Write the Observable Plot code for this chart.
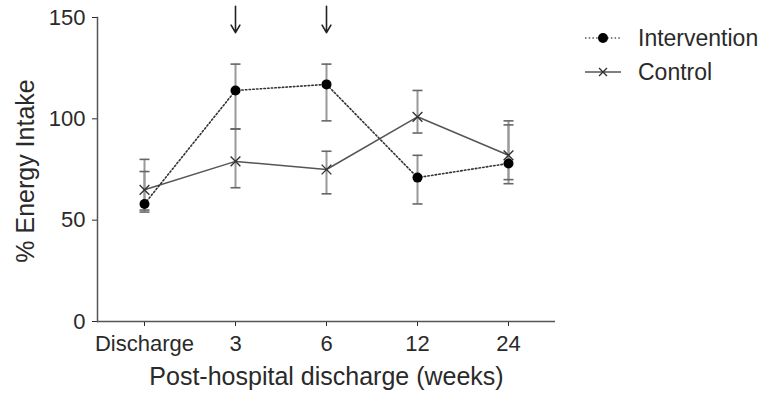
<!DOCTYPE html>
<html>
<head>
<meta charset="utf-8">
<script src="https://cdn.jsdelivr.net/npm/d3@7"></script>
<script src="https://cdn.jsdelivr.net/npm/@observablehq/plot@0.6"></script>
<style>
  body { margin: 0; background: #fff; }
  #wrap { position: relative; width: 765px; height: 393px; font-family: "Liberation Sans", Arial, sans-serif; }
  #wrap svg text { fill: #2a2a2a; }
  g[aria-label="x-axis label"] text { font-size: 25px; }
  .leg { position: absolute; left: 585px; display: flex; align-items: center; font-size: 23px; color: #2a2a2a; }
  .leg svg { margin-right: 17px; }
  #ylab { position: absolute; left: 25px; top: 171px; transform: translate(-50%, -50%) rotate(-90deg); white-space: nowrap; font-size: 25px; color: #2a2a2a; }
</style>
</head>
<body>
<div id="wrap"></div>
<script>
const timepoints = ["Discharge", "3", "6", "12", "24"];
const interventionMean = [58, 114, 117, 71, 78];
const interventionLow  = [55, 95, 99, 58, 68];
const interventionHigh = [74, 127, 127, 82, 97];
const controlMean = [65, 79, 75, 101, 82];
const controlLow  = [54, 66, 63, 93, 70];
const controlHigh = [80, 95, 84, 114, 99];
const seriesNames = ["Intervention", "Control"];
const arrowAt = ["3", "6"];
const yTicks = [0, 50, 100, 150];
const xTitle = "Post-hospital discharge (weeks)";
const yTitle = "% Energy Intake";

const intervention = timepoints.map((t, i) => ({t, mean: interventionMean[i], low: interventionLow[i], high: interventionHigh[i]}));
const control = timepoints.map((t, i) => ({t, mean: controlMean[i], low: controlLow[i], high: controlHigh[i]}));
const all = intervention.concat(control);

const capSymbol = { draw(ctx, size) { const w = 5; ctx.moveTo(-w, 0); ctx.lineTo(w, 0); } };

const chart = Plot.plot({
  width: 765, height: 393,
  marginLeft: 97, marginRight: 210, marginTop: 17, marginBottom: 72,
  style: { fontFamily: "Liberation Sans, Arial, sans-serif", fontSize: "22px", background: "white", color: "#2a2a2a", overflow: "visible" },
  x: { type: "point", domain: timepoints, padding: 0.5, label: xTitle, labelAnchor: "center", labelOffset: 63, tickSize: 5, tickPadding: 9 },
  y: { domain: [0, 150], ticks: yTicks, label: null, tickSize: 5, tickPadding: 7 },
  marks: [
    Plot.ruleY([0], { stroke: "#555", strokeWidth: 1.5 }),
    Plot.frame({ anchor: "left", stroke: "#555", strokeWidth: 1.5 }),
    Plot.ruleX(all, { x: "t", y1: "low", y2: "high", stroke: "#999", strokeWidth: 2 }),
    Plot.dot(all, { x: "t", y: "low", symbol: capSymbol, stroke: "#666", strokeWidth: 1.6, r: 5 }),
    Plot.dot(all, { x: "t", y: "high", symbol: capSymbol, stroke: "#666", strokeWidth: 1.6, r: 5 }),
    Plot.line(control, { x: "t", y: "mean", stroke: "#555", strokeWidth: 1.5 }),
    Plot.line(intervention, { x: "t", y: "mean", stroke: "#333", strokeWidth: 1.6, strokeDasharray: "1.5,2.2" }),
    Plot.dot(control, { x: "t", y: "mean", symbol: "times", r: 4.5, stroke: "#333", strokeWidth: 1.4 }),
    Plot.dot(intervention, { x: "t", y: "mean", r: 5, fill: "#000", stroke: "none" }),
    Plot.arrow(arrowAt, { x1: d => d, x2: d => d, y1: 155.5, y2: 142.5, stroke: "#222", strokeWidth: 1.6, headLength: 9, clip: false })
  ]
});

const wrap = document.getElementById("wrap");
wrap.appendChild(chart);

const ylab = document.createElement("div");
ylab.id = "ylab";
ylab.textContent = yTitle;
wrap.appendChild(ylab);

// legend
const legTops = [24, 58];
seriesNames.forEach((name, i) => {
  const div = document.createElement("div");
  div.className = "leg";
  div.style.top = legTops[i] + "px";
  const dash = i === 0 ? 'stroke-dasharray="1.5,2.2"' : '';
  const marker = i === 0
    ? '<circle cx="18" cy="14" r="5" fill="#000"/>'
    : '<path d="M14,10L22,18M22,10L14,18" stroke="#333" stroke-width="1.4"/>';
  div.innerHTML = `<svg width="36" height="28"><line x1="0" x2="36" y1="14" y2="14" stroke="#555" stroke-width="1.5" ${dash}/>${marker}</svg><span>${name}</span>`;
  wrap.appendChild(div);
});
</script>
</body>
</html>
